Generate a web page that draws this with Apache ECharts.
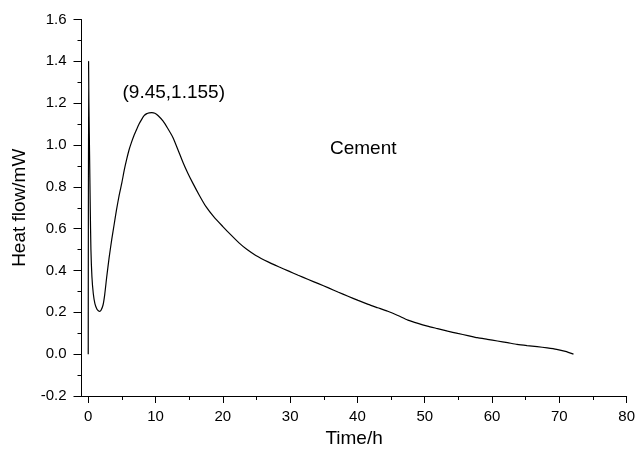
<!DOCTYPE html>
<html>
<head>
<meta charset="utf-8">
<script src="https://cdn.jsdelivr.net/npm/echarts@6/dist/echarts.min.js"></script>
<style>html,body{margin:0;padding:0;background:#fff;}#c{width:638px;height:453px;}</style>
</head>
<body>
<div id="c"></div>
<script>
const timeH = [0, 0.05, 0.1, 0.2, 0.3, 0.4, 0.55, 0.75, 1.0, 1.3,
  1.5, 1.7, 1.9, 2.2, 2.45, 2.75, 3.1, 3.5, 3.85, 4.2, 4.6, 5.0,
  5.35, 5.7, 6.05, 6.4, 6.8, 7.2, 7.55, 7.9, 8.3, 8.7,
  9.05, 9.45, 9.9, 10.4, 11.1, 11.8, 12.6, 13.3, 14.1, 14.8,
  15.5, 16.5, 17.5, 18.7, 20.0, 21.2, 22.4, 23.6, 24.9, 26.8,
  28.3, 29.8, 31.2, 32.7, 34.2, 35.7, 37.1, 38.6, 40.1, 41.6,
  43.0, 44.5, 46.0, 47.5, 49.0, 50.4, 51.9, 53.4, 54.9, 56.4,
  57.8, 59.3, 60.8, 62.3, 63.7, 65.2, 66.7, 68.2, 69.6, 70.9, 72.1];
const heatFlow = [0, 1.4, 1.2, 0.95, 0.7, 0.5, 0.37, 0.29, 0.24, 0.215,
  0.208, 0.205, 0.21, 0.235, 0.285, 0.37, 0.46, 0.55, 0.62, 0.69, 0.76, 0.82,
  0.88, 0.93, 0.975, 1.01, 1.045, 1.075, 1.1, 1.12, 1.14, 1.15,
  1.154, 1.155, 1.152, 1.14, 1.115, 1.08, 1.035, 0.98, 0.915, 0.865,
  0.82, 0.76, 0.705, 0.655, 0.61, 0.57, 0.532, 0.5, 0.472, 0.44,
  0.418, 0.397, 0.377, 0.357, 0.337, 0.317, 0.297, 0.277, 0.257, 0.238,
  0.222, 0.205, 0.185, 0.163, 0.147, 0.134, 0.122, 0.11, 0.099, 0.089,
  0.079, 0.071, 0.063, 0.055, 0.047, 0.041, 0.036, 0.03, 0.023, 0.013, 0.0];
const xMajorTicks = [0, 10, 20, 30, 40, 50, 60, 70, 80];
const xMinorTicks = [5, 15, 25, 35, 45, 55, 65, 75];
const peakLabel = '(9.45,1.155)';
const seriesLabel = 'Cement';

const FONT = 'Liberation Sans, Arial, sans-serif';
const chart = echarts.init(document.getElementById('c'));
chart.setOption({
  animation: false,
  backgroundColor: '#fff',
  grid: {left: 81.5, right: 8, top: 19.5, bottom: 56.5, containLabel: false},
  xAxis: [{
    type: 'value', min: -1, max: 80, position: 'bottom',
    name: 'Time/h', nameLocation: 'middle', nameGap: 33,
    nameTextStyle: {fontFamily: FONT, fontSize: 19, color: '#000'},
    axisLine: {show: true, onZero: false, lineStyle: {color: '#000', width: 1}},
    axisTick: {show: true, inside: false, length: 7, customValues: xMajorTicks, lineStyle: {color: '#000', width: 1}},
    axisLabel: {show: true, customValues: xMajorTicks, margin: 13, fontFamily: FONT, fontSize: 15, color: '#000'},
    splitLine: {show: false}
  }, {
    type: 'value', min: -1, max: 80, position: 'bottom', offset: 0,
    axisLine: {show: false, onZero: false},
    axisTick: {show: true, inside: false, length: 4, customValues: xMinorTicks, lineStyle: {color: '#000', width: 1}},
    axisLabel: {show: false},
    splitLine: {show: false}
  }],
  yAxis: {
    type: 'value', min: -0.2, max: 1.6, interval: 0.2,
    name: 'Heat flow/mW', nameLocation: 'middle', nameGap: 52,
    nameTextStyle: {fontFamily: FONT, fontSize: 19, color: '#000'},
    axisLine: {show: true, onZero: false, lineStyle: {color: '#000', width: 1}},
    axisTick: {show: true, inside: false, length: 8, lineStyle: {color: '#000'}},
    minorTick: {show: true, splitNumber: 2, length: 4, lineStyle: {color: '#000'}},
    axisLabel: {margin: 15, fontFamily: FONT, fontSize: 15, color: '#000',
      formatter: v => v.toFixed(1)},
    splitLine: {show: false}
  },
  series: [{
    type: 'line', xAxisIndex: 0,
    data: timeH.map((t, i) => [t, heatFlow[i]]),
    showSymbol: false, symbol: 'none',
    lineStyle: {color: '#000', width: 1.2},
    smooth: 0.2
  }],
  graphic: [
    {type: 'text', x: 122.5, y: 93, style: {text: peakLabel, font: '19px ' + FONT, fill: '#000', align: 'left', verticalAlign: 'middle'}},
    {type: 'text', x: 330, y: 149, style: {text: seriesLabel, font: '19px ' + FONT, fill: '#000', align: 'left', verticalAlign: 'middle'}}
  ]
});
</script>
</body>
</html>
